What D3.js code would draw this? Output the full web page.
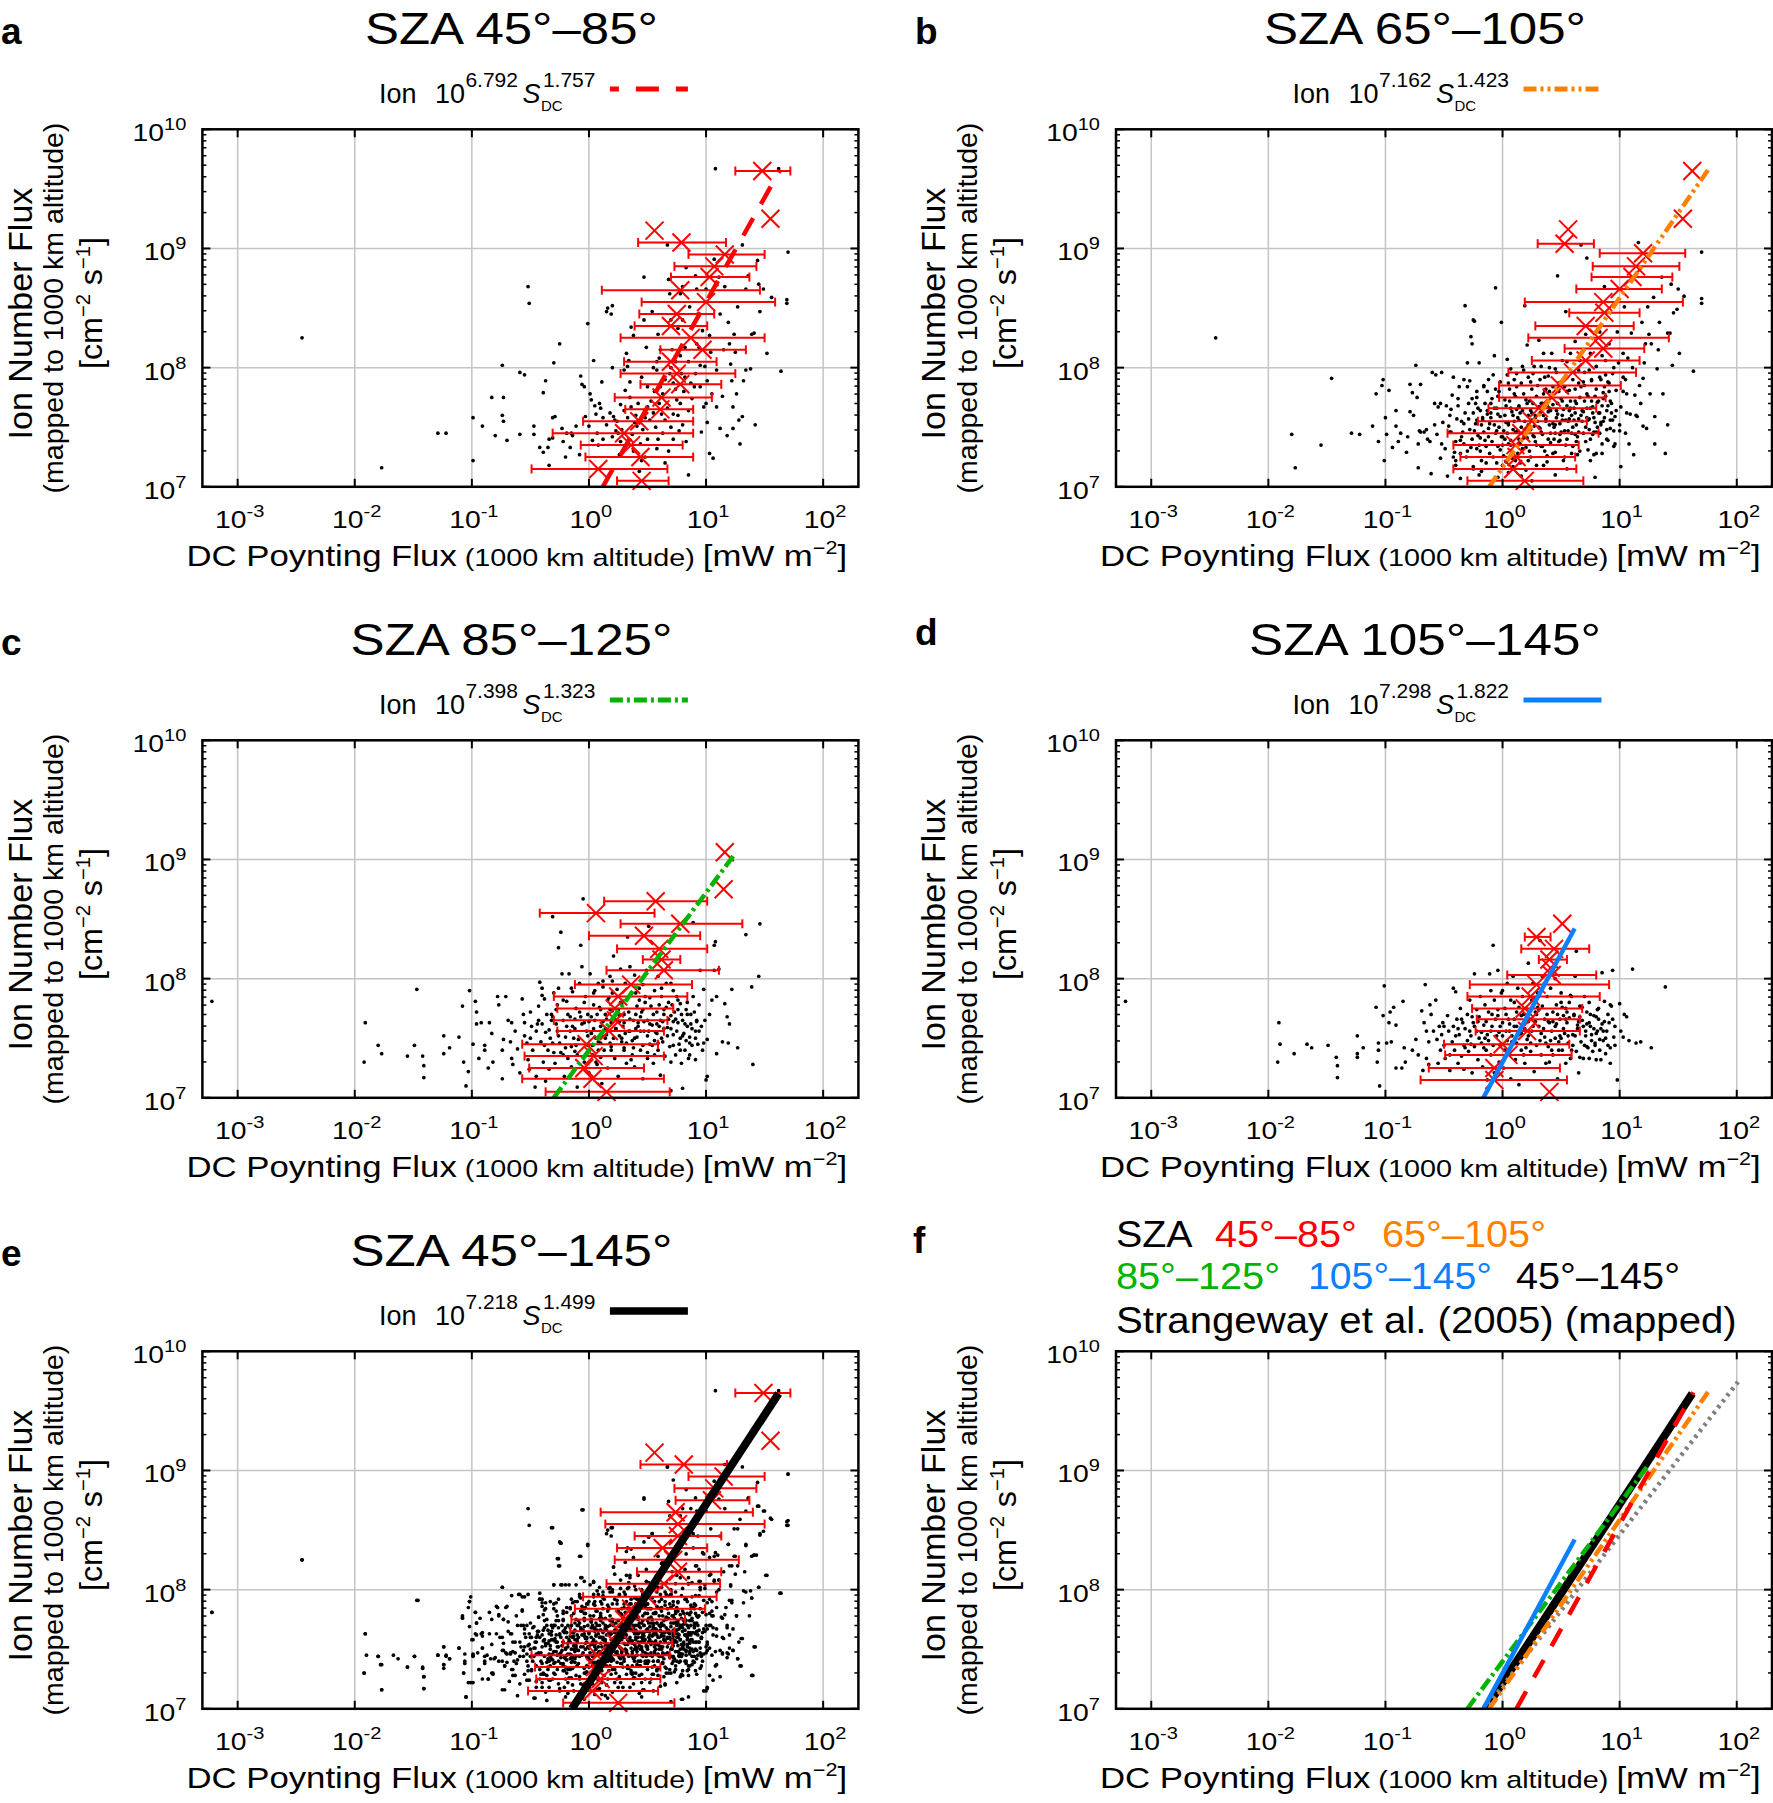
<!DOCTYPE html>
<html><head><meta charset="utf-8">
<script src="https://cdn.jsdelivr.net/npm/d3@7"></script>
<style>body{margin:0;background:#fff}svg{display:block}text{font-family:"Liberation Sans",Arial,Helvetica,sans-serif}</style>
</head><body>
<svg id="chart" width="1773" height="1803"></svg>
<script>
// ---------------- DATA (log10 S_DC [mW m^-2], log10 ion flux [cm^-2 s^-1]) ----------------
const pointsA = [[-2.45,8.25],[-1.77,7.16],[-1.29,7.45],[-1.22,7.45],[-0.99,7.58],[-0.99,7.22],[-0.91,7.51],[-0.80,7.43],[-0.74,8.02],[-0.73,7.75],[-0.83,7.75],[-0.74,7.60],[-0.73,7.55],[-0.70,7.39],[-0.59,7.96],[-0.55,7.94],[-0.52,8.68],[-0.51,8.54],[-0.59,7.44],[-0.47,7.51],[-0.47,7.44],[-0.42,7.33],[-0.39,7.29],[-0.35,7.33],[-0.34,7.18],[-0.37,7.89],[-0.39,7.79],[-0.30,8.04],[-0.25,8.20],[-0.31,7.58],[-0.29,7.59],[-0.34,7.40],[-0.31,7.41],[-0.23,7.49],[-0.22,7.38],[-0.20,7.25],[-0.19,7.45],[-0.15,7.45],[-0.14,7.43],[-0.16,7.33],[-0.11,7.51],[-0.08,7.27],[-0.07,7.93],[-0.06,7.86],[-0.04,7.84],[-0.03,7.59],[-0.01,8.37],[0.00,7.51],[0.01,7.78],[0.02,7.73],[0.03,7.39],[0.04,8.06],[0.06,7.61],[0.07,7.45],[0.08,7.35],[0.09,7.70],[0.10,7.66],[0.11,7.88],[0.12,7.40],[0.15,8.47],[0.16,8.50],[0.19,8.45],[0.20,8.52],[0.20,8.00],[0.21,7.59],[0.22,7.56],[0.23,7.47],[0.25,7.45],[0.26,7.27],[0.27,7.69],[0.30,7.98],[0.31,7.81],[0.32,8.12],[0.33,8.01],[0.34,8.06],[0.36,8.34],[0.38,8.27],[0.35,7.75],[0.36,7.67],[0.39,7.54],[0.41,7.51],[0.43,7.13],[0.45,7.22],[0.47,8.76],[0.47,8.40],[0.49,8.17],[0.50,7.84],[0.50,7.67],[0.52,7.56],[0.54,8.47],[0.56,7.80],[0.58,8.05],[0.58,7.98],[0.59,8.28],[0.61,8.15],[0.61,7.84],[0.62,7.61],[0.63,7.45],[0.65,7.20],[0.67,9.03],[0.68,8.74],[0.69,8.62],[0.69,7.95],[0.70,8.40],[0.71,8.15],[0.72,7.87],[0.72,7.61],[0.74,8.05],[0.75,7.73],[0.76,8.33],[0.77,7.47],[0.78,8.62],[0.79,7.95],[0.80,8.68],[0.80,8.40],[0.81,7.80],[0.82,8.17],[0.83,8.84],[0.83,7.38],[0.85,7.10],[0.86,8.51],[0.87,7.87],[0.89,8.35],[0.91,7.95],[0.91,8.77],[0.92,8.66],[0.93,8.45],[0.94,8.17],[0.95,7.84],[0.96,7.46],[0.97,8.31],[0.98,7.67],[0.99,8.01],[1.00,8.66],[1.01,7.54],[1.01,7.89],[1.03,8.27],[1.03,7.28],[1.04,8.13],[1.05,7.78],[1.06,7.24],[1.07,8.91],[1.08,9.67],[1.09,7.98],[1.09,7.67],[1.11,8.76],[1.12,8.45],[1.12,7.49],[1.14,7.76],[1.15,8.15],[1.16,8.68],[1.18,7.43],[1.19,8.38],[1.20,8.20],[1.21,8.03],[1.22,7.89],[1.23,7.49],[1.23,7.67],[1.24,8.28],[1.25,8.13],[1.26,7.78],[1.27,8.51],[1.28,7.56],[1.29,7.36],[1.31,7.59],[1.31,9.03],[1.32,7.89],[1.34,7.98],[1.34,8.66],[1.36,8.77],[1.38,7.99],[1.39,8.28],[1.41,8.29],[1.42,7.52],[1.44,8.90],[1.45,8.70],[1.46,8.47],[1.49,8.66],[1.52,8.12],[1.56,8.59],[1.62,9.67],[1.64,7.97],[1.69,8.54],[1.69,8.57],[1.70,8.97],
[0.15,7.52],[0.18,7.62],[0.24,7.55],[0.28,7.48],[0.30,7.64],[0.33,7.58],[0.37,7.44],[0.40,7.60],[0.42,7.70],[0.44,7.36],[0.46,7.48],[0.48,7.58],[0.50,7.40],[0.53,7.72],[0.55,7.62],[0.57,7.50],[0.59,7.40],[0.60,7.70],[0.63,7.78],[0.65,7.56],[0.67,7.66],[0.70,7.50],[0.72,7.40],[0.74,7.82],[0.76,7.60],[0.78,7.70],[0.80,7.52],[0.82,7.92],[0.85,7.64],[0.88,7.74],[0.90,7.84],[0.35,7.88],[0.45,7.92],[0.55,8.00],[0.65,7.90],[0.70,8.00],[0.78,8.10],[0.85,8.05],[0.92,8.20],[0.60,8.08],[0.38,7.30],[0.48,7.25],[0.58,7.32],[0.68,7.30],[0.27,7.38],[0.20,7.42],[0.12,7.58],[0.05,7.68],[0.95,8.02],[1.00,7.70]];

const pointsB = [[-2.45,8.25],[-1.80,7.44],[-1.77,7.16],[-1.55,7.35],[-1.46,7.91],[-1.29,7.45],[-1.22,7.44],[-1.11,7.51],[-1.08,7.78],[-1.06,7.38],[-1.03,7.85],[-1.02,7.90],[-1.01,7.22],[-1.00,7.58],[-0.99,7.44],[-0.97,7.81],[-0.94,7.33],[-0.91,7.64],[-0.91,7.51],[-0.89,7.38],[-0.87,7.45],[-0.82,7.29],[-0.81,7.42],[-0.79,7.63],[-0.79,7.86],[-0.77,7.79],[-0.76,7.60],[-0.74,8.02],[-0.73,7.75],[-0.72,7.36],[-0.72,7.16],[-0.71,7.47],[-0.70,7.86],[-0.70,7.46],[-0.67,7.46],[-0.65,7.48],[-0.64,7.40],[-0.62,7.38],[-0.61,7.11],[-0.60,7.96],[-0.58,7.70],[-0.57,7.94],[-0.56,7.44],[-0.55,7.67],[-0.53,7.70],[-0.53,7.24],[-0.52,7.96],[-0.51,7.54],[-0.49,7.32],[-0.47,7.09],[-0.46,7.51],[-0.45,7.46],[-0.44,7.65],[-0.43,7.77],[-0.42,7.92],[-0.41,7.29],[-0.40,7.22],[-0.39,7.57],[-0.38,7.68],[-0.37,7.84],[-0.36,7.07],[-0.36,7.39],[-0.34,7.46],[-0.33,7.53],[-0.33,7.90],[-0.32,8.52],[-0.31,7.25],[-0.30,8.04],[-0.29,7.70],[-0.28,7.89],[-0.27,8.26],[-0.26,8.20],[-0.25,7.17],[-0.25,8.40],[-0.24,8.39],[-0.23,7.53],[-0.22,7.75],[-0.22,7.32],[-0.21,7.43],[-0.20,8.04],[-0.19,7.64],[-0.18,7.13],[-0.17,7.56],[-0.16,7.85],[-0.15,7.39],[-0.14,7.20],[-0.13,7.61],[-0.13,7.80],[-0.12,7.49],[-0.11,7.28],[-0.10,7.70],[-0.08,7.94],[-0.07,7.66],[-0.07,8.10],[-0.06,8.67],[-0.05,7.47],[-0.04,7.34],[-0.04,7.08],[-0.03,7.80],[-0.02,7.59],[-0.01,8.38],[0.00,7.42],[0.02,7.73],[0.03,7.21],[0.04,8.07],[0.05,7.54],[0.05,7.87],[0.07,7.35],[0.07,7.99],[0.08,7.63],[0.09,7.17],[0.10,7.78],[0.11,7.46],[0.12,7.95],[0.13,7.28],[0.14,7.67],[0.14,7.56],[0.16,7.87],[0.16,7.09],[0.17,8.01],[0.18,7.41],[0.19,8.52],[0.20,7.73],[0.21,8.19],[0.22,7.52],[0.22,7.92],[0.24,7.25],[0.24,7.64],[0.25,7.82],[0.26,7.43],[0.27,8.01],[0.28,7.60],[0.29,7.18],[0.30,7.85],[0.31,8.23],[0.32,7.49],[0.33,7.70],[0.33,8.01],[0.34,7.34],[0.35,8.12],[0.36,7.81],[0.37,7.57],[0.38,7.21],[0.39,7.93],[0.40,7.66],[0.41,7.45],[0.42,8.12],[0.43,7.84],[0.43,7.53],[0.45,7.29],[0.45,7.99],[0.46,7.64],[0.47,8.77],[0.48,7.87],[0.49,7.39],[0.50,7.74],[0.51,8.06],[0.51,7.56],[0.53,7.25],[0.54,7.93],[0.54,8.47],[0.55,7.68],[0.56,7.47],[0.57,7.81],[0.58,8.12],[0.59,7.60],[0.60,7.34],[0.61,7.96],[0.62,8.22],[0.62,7.72],[0.63,7.52],[0.64,7.27],[0.65,7.87],[0.66,8.06],[0.67,9.03],[0.68,7.64],[0.69,7.45],[0.70,7.96],[0.71,8.28],[0.72,7.78],[0.72,8.92],[0.73,7.31],[0.74,7.57],[0.75,8.12],[0.76,7.89],[0.77,7.67],[0.78,7.27],[0.79,7.08],[0.80,8.01],[0.80,7.46],[0.82,7.72],[0.83,8.30],[0.83,7.92],[0.84,7.54],[0.85,7.28],[0.86,7.79],[0.87,8.68],[0.88,8.06],[0.89,7.64],[0.90,7.39],[0.91,7.87],[0.91,8.20],[0.92,7.49],[0.93,7.70],[0.94,7.95],[0.95,7.34],[0.96,7.59],[0.97,7.81],[0.98,8.30],[0.99,8.04],[1.00,7.47],[1.01,7.17],[1.01,7.67],[1.03,7.92],[1.03,8.12],[1.04,8.51],[1.05,7.45],[1.06,7.78],[1.07,8.08],[1.08,7.36],[1.09,7.61],[1.10,8.29],[1.11,8.00],[1.12,7.27],[1.13,7.77],[1.14,7.60],[1.15,7.59],[1.16,9.05],[1.17,7.85],[1.18,7.70],[1.19,8.38],[1.20,7.91],[1.20,7.51],[1.21,8.04],[1.22,8.20],[1.23,7.49],[1.24,8.51],[1.25,8.28],[1.26,7.78],[1.27,8.20],[1.29,8.59],[1.30,7.36],[1.30,7.59],[1.32,7.99],[1.33,8.15],[1.34,8.38],[1.36,8.76],[1.37,7.78],[1.39,7.28],[1.41,8.29],[1.41,7.52],[1.43,8.29],[1.44,8.70],[1.45,8.02],[1.46,8.46],[1.49,8.49],[1.50,8.66],[1.51,8.12],[1.55,8.60],[1.63,7.97],[1.70,8.54],[1.70,8.58],[1.70,8.97],
[-0.45,7.60],[-0.40,7.38],[-0.35,7.55],[-0.30,7.30],[-0.28,7.48],[-0.25,7.62],[-0.20,7.35],[-0.18,7.52],[-0.15,7.70],[-0.12,7.42],[-0.10,7.58],[-0.08,7.25],[-0.05,7.66],[-0.03,7.50],[0.00,7.35],[0.02,7.60],[0.04,7.45],[0.06,7.72],[0.08,7.30],[0.10,7.55],[0.12,7.65],[0.14,7.40],[0.16,7.50],[0.18,7.78],[0.20,7.33],[0.22,7.60],[0.24,7.48],[0.26,7.70],[0.28,7.38],[0.30,7.55],[0.32,7.62],[0.34,7.44],[0.36,7.30],[0.38,7.68],[0.40,7.52],[0.42,7.75],[0.44,7.40],[0.46,7.58],[0.48,7.80],[0.50,7.46],[0.52,7.65],[0.54,7.35],[0.56,7.55],[0.58,7.72],[0.60,7.50],[0.62,7.62],[0.64,7.42],[0.66,7.75],[0.68,7.55],[0.70,7.85],[0.72,7.66],[0.74,7.48],[0.76,7.72],[0.78,7.58],[0.80,7.82],[0.82,7.62],[0.84,7.90],[0.86,7.55],[0.88,7.76],[0.90,7.68],[-0.22,7.80],[-0.06,7.82],[0.10,7.90],[0.26,7.95],[0.40,8.00],[0.55,8.05],[0.65,7.98],[0.85,8.10],[0.95,8.00],[1.05,7.90],[0.15,7.20],[0.35,7.18],[0.55,7.15],[0.75,7.22],[-0.25,7.15],[0.05,7.12],[0.45,7.10],[0.25,7.05],[-0.35,7.42],[-0.42,7.25],
[-0.58,7.52],[-0.52,7.36],[-0.48,7.68],[-0.44,7.46],[-0.38,7.74],[-0.36,7.28],[-0.32,7.62],[-0.26,7.40],[-0.23,7.70],[-0.19,7.30],[-0.16,7.46],[-0.13,7.64],[-0.09,7.38],[-0.07,7.52],[-0.04,7.76],[-0.01,7.42],[0.01,7.26],[0.03,7.54],[0.05,7.36],[0.07,7.66],[0.09,7.48],[0.11,7.22],[0.13,7.58],[0.15,7.36],[0.17,7.64],[0.19,7.44],[0.21,7.70],[0.23,7.30],[0.25,7.56],[0.27,7.42],[0.29,7.76],[0.31,7.50],[0.33,7.34],[0.35,7.60],[0.37,7.82],[0.39,7.40],[0.41,7.64],[0.43,7.28],[0.45,7.52],[0.47,7.70],[0.49,7.44],[0.51,7.60],[0.53,7.84],[0.55,7.40],[0.57,7.64],[0.59,7.28],[0.61,7.56],[0.63,7.70],[0.65,7.46],[0.67,7.60],[0.69,7.88],[0.71,7.38],[0.73,7.56],[0.75,7.66],[0.77,7.44],[0.79,7.76],[0.81,7.50],[0.83,7.62],[0.85,7.36],[0.87,7.84],[0.89,7.48],[0.92,7.72],[0.94,7.56],[0.97,7.64],[1.00,7.52],[1.03,7.80],[1.06,7.62],[-0.30,7.84],[-0.12,7.90],[0.04,7.94],[0.18,7.98],[0.32,7.90],[0.46,7.96],[0.60,7.90],[0.74,7.98],[0.88,7.94],[-0.40,7.18],[-0.20,7.10],[0.00,7.18],[0.20,7.14],
[-0.29,7.57],[-0.27,7.33],[-0.24,7.47],[-0.21,7.66],[-0.19,7.41],[-0.17,7.58],[-0.14,7.34],[-0.11,7.53],[-0.09,7.74],[-0.06,7.45],[-0.04,7.61],[-0.02,7.31],[0.01,7.47],[0.03,7.68],[0.05,7.52],[0.07,7.39],[0.09,7.60],[0.11,7.76],[0.13,7.47],[0.15,7.62],[0.17,7.32],[0.19,7.55],[0.21,7.41],[0.23,7.72],[0.25,7.62],[0.27,7.51],[0.29,7.35],[0.31,7.67],[0.33,7.46],[0.35,7.78],[0.37,7.55],[0.39,7.63],[0.41,7.37],[0.43,7.69],[0.45,7.45],[0.47,7.61],[0.49,7.53],[0.51,7.72],[0.53,7.47],[0.55,7.80],[0.57,7.57],[0.59,7.45],[0.61,7.66],[0.63,7.38],[0.65,7.57],[0.67,7.84],[0.69,7.63],[0.71,7.50],[0.73,7.76],[0.75,7.40],[0.77,7.62],[0.79,7.54],[0.81,7.71],[0.83,7.45],[0.85,7.68],[0.87,7.58],[0.89,7.40],[0.91,7.80],[0.93,7.62],[0.95,7.47],
[-0.26,7.74],[-0.16,7.84],[-0.02,7.88],[0.12,7.84],[0.24,7.88],[0.36,7.92],[0.50,7.88],[0.62,7.82],[0.76,7.90],[0.90,7.88],[-0.33,7.36],[-0.18,7.22],[-0.05,7.20],[0.08,7.24],[0.22,7.22],[0.38,7.26],[0.52,7.22],[0.66,7.30],[0.80,7.28],[0.96,7.36],
[0.02,7.40],[0.14,7.68],[0.28,7.58],[0.44,7.50],[0.58,7.66],[0.72,7.58],[0.86,7.74],[-0.10,7.62],[0.20,7.48],[0.34,7.70],[0.48,7.38],[0.62,7.44],[0.78,7.46],[0.92,7.56],[0.06,7.82],[0.40,7.80],[-0.22,7.56],[0.54,7.56],[0.70,7.72],[0.84,7.52]];

const pointsC = [[-3.22,7.81],[-1.92,7.30],[-1.91,7.63],[-1.80,7.44],[-1.77,7.37],[-1.55,7.35],[-1.49,7.44],[-1.47,7.91],[-1.42,7.35],[-1.41,7.27],[-1.41,7.17],[-1.24,7.52],[-1.24,7.37],[-1.19,7.42],[-1.11,7.51],[-1.08,7.77],[-1.07,7.30],[-1.05,7.10],[-1.03,7.22],[-1.02,7.90],[-0.99,7.45],[-0.97,7.81],[-0.96,7.62],[-0.96,7.72],[-0.94,7.33],[-0.92,7.63],[-0.89,7.40],[-0.89,7.44],[-0.86,7.25],[-0.85,7.63],[-0.83,7.54],[-0.82,7.30],[-0.78,7.85],[-0.77,7.78],[-0.74,7.40],[-0.74,7.16],[-0.73,7.49],[-0.71,7.85],[-0.69,7.65],[-0.67,7.47],[-0.66,7.63],[-0.66,7.33],[-0.65,7.28],[-0.63,7.56],[-0.61,7.41],[-0.59,7.21],[-0.57,7.83],[-0.56,7.70],[-0.55,7.63],[-0.55,7.52],[-0.53,7.46],[-0.52,7.32],[-0.51,7.24],[-0.50,7.72],[-0.49,7.60],[-0.48,7.40],[-0.46,7.09],[-0.45,7.18],[-0.45,7.56],[-0.43,7.65],[-0.43,7.77],[-0.42,7.97],[-0.41,7.47],[-0.40,7.92],[-0.39,7.30],[-0.38,7.83],[-0.37,7.14],[-0.36,7.70],[-0.35,7.40],[-0.34,7.57],[-0.34,7.24],[-0.32,7.65],[-0.31,8.52],[-0.31,7.46],[-0.30,7.88],[-0.29,7.29],[-0.28,7.74],[-0.27,7.56],[-0.26,8.26],[-0.26,7.92],[-0.24,8.39],[-0.24,7.38],[-0.23,8.04],[-0.22,7.65],[-0.21,7.18],[-0.20,7.51],[-0.19,7.81],[-0.18,7.33],[-0.17,8.04],[-0.16,7.68],[-0.15,7.43],[-0.15,7.26],[-0.14,7.89],[-0.12,7.58],[-0.12,7.39],[-0.11,7.75],[-0.10,7.09],[-0.09,7.49],[-0.08,7.96],[-0.07,8.28],[-0.06,8.10],[-0.05,8.67],[-0.04,7.63],[-0.04,7.30],[-0.03,7.85],[-0.01,7.44],[-0.01,7.70],[0.00,7.21],[0.01,8.04],[0.02,7.54],[0.03,7.36],[0.04,7.88],[0.05,7.65],[0.07,7.28],[0.08,7.96],[0.08,7.47],[0.09,7.76],[0.10,7.60],[0.11,7.12],[0.12,7.93],[0.13,7.40],[0.14,7.70],[0.15,7.53],[0.16,7.25],[0.17,7.84],[0.18,8.02],[0.19,7.63],[0.19,7.43],[0.20,7.73],[0.21,8.19],[0.22,7.33],[0.23,7.58],[0.24,7.91],[0.25,7.18],[0.26,7.69],[0.27,8.08],[0.28,7.47],[0.28,7.79],[0.30,7.40],[0.30,7.63],[0.31,7.96],[0.32,7.29],[0.33,8.35],[0.34,7.72],[0.35,7.56],[0.36,7.88],[0.37,7.36],[0.38,7.65],[0.39,8.03],[0.39,7.26],[0.41,7.77],[0.41,7.51],[0.42,7.63],[0.43,7.92],[0.44,7.40],[0.45,7.72],[0.46,7.16],[0.47,7.56],[0.48,7.85],[0.49,8.07],[0.50,7.33],[0.50,7.65],[0.51,8.44],[0.52,7.45],[0.53,7.77],[0.54,7.61],[0.55,7.29],[0.56,7.90],[0.57,7.55],[0.58,7.72],[0.59,7.40],[0.59,8.02],[0.61,7.65],[0.61,7.19],[0.62,7.85],[0.63,7.47],[0.64,7.70],[0.65,7.35],[0.66,7.96],[0.67,7.59],[0.68,7.80],[0.69,7.43],[0.70,7.69],[0.70,7.06],[0.72,7.90],[0.72,7.53],[0.73,7.72],[0.74,7.36],[0.75,7.85],[0.76,7.63],[0.77,7.45],[0.78,7.79],[0.79,7.29],[0.80,7.08],[0.80,7.65],[0.81,7.54],[0.82,7.40],[0.83,7.74],[0.84,7.60],[0.85,7.33],[0.86,7.51],[0.87,7.70],[0.88,7.44],[0.89,7.85],[0.89,8.47],[0.91,7.56],[0.91,7.32],[0.92,7.65],[0.93,7.45],[0.94,7.78],[0.95,8.07],[0.96,7.60],[0.97,7.40],[0.98,7.91],[0.99,7.65],[1.00,7.15],[1.01,7.49],[1.01,7.18],[1.03,7.70],[1.05,7.82],[1.07,8.28],[1.08,8.31],[1.07,8.07],[1.09,7.85],[1.09,7.37],[1.11,8.08],[1.14,7.47],[1.16,7.79],[1.18,7.68],[1.19,7.46],[1.20,7.62],[1.22,7.91],[1.27,7.42],[1.34,8.37],[1.39,7.93],[1.40,7.28],[1.45,8.02],[1.46,8.46],
[-0.40,7.62],[-0.33,7.50],[-0.27,7.78],[-0.20,7.42],[-0.14,7.60],[-0.08,7.72],[-0.02,7.56],[0.04,7.78],[0.08,7.40],[0.12,7.64],[0.16,7.82],[0.21,7.50],[0.25,7.74],[0.29,7.60],[0.33,7.84],[0.37,7.48],[0.40,7.70],[0.44,7.56],[0.48,7.80],[0.52,7.62],[0.56,7.48],[0.60,7.78],[0.64,7.58],[0.68,7.66],[0.72,7.44],[0.76,7.74],[0.80,7.52],[0.84,7.80],[0.88,7.58],[0.10,7.34],[0.30,7.42],[0.50,7.38],[0.70,7.30],[-0.10,7.36],[-0.30,7.38],[0.20,7.98],[0.46,7.95],[0.62,7.92],[0.35,8.10],[0.05,7.90],
[-0.50,7.50],[-0.44,7.62],[-0.38,7.44],[-0.32,7.70],[-0.26,7.52],[-0.22,7.36],[-0.16,7.56],[-0.11,7.44],[-0.06,7.62],[-0.02,7.36],[0.02,7.68],[0.06,7.50],[0.10,7.74],[0.14,7.58],[0.18,7.46],[0.22,7.66],[0.26,7.52],[0.30,7.70],[0.34,7.56],[0.38,7.42],[0.42,7.60],[0.46,7.74],[0.50,7.52],[0.54,7.44],[0.58,7.62],[0.62,7.50],[0.66,7.76],[0.70,7.58],[0.74,7.66],[0.78,7.50],[0.82,7.62],[0.86,7.46],[0.90,7.72],[0.94,7.56],[0.98,7.46],[-0.40,7.86],[-0.15,7.92],[0.12,7.98],[0.40,7.88],[0.70,7.96],
[-0.37,7.55],[-0.31,7.68],[-0.25,7.46],[-0.19,7.60],[-0.13,7.50],[-0.07,7.68],[-0.01,7.52],[0.03,7.44],[0.07,7.70],[0.11,7.52],[0.15,7.66],[0.19,7.40],[0.23,7.58],[0.27,7.80],[0.31,7.54],[0.35,7.66],[0.39,7.50],[0.43,7.82],[0.47,7.64],[0.51,7.56],[0.55,7.70],[0.59,7.46],[0.63,7.64],[0.67,7.52],[0.71,7.78],[0.75,7.56],[0.79,7.70],[0.83,7.48],[0.87,7.62],[0.91,7.50],
[-0.28,7.62],[-0.22,7.82],[-0.12,7.66],[-0.04,7.80],[0.04,7.58],[0.10,7.46],[0.18,7.74],[0.26,7.64],[0.32,7.46],[0.40,7.58],[0.46,7.44],[0.52,7.84],[0.58,7.54],[0.64,7.74],[0.72,7.64],[0.78,7.40],[0.84,7.70],[0.92,7.64],[0.00,7.64],[0.14,7.50],[0.28,7.50],[0.44,7.68],[0.60,7.60],[0.76,7.82],[-0.18,7.70],[0.06,7.30],[0.36,7.32],[0.56,7.36],[0.86,7.36],[0.20,7.88]];

const pointsD = [[-3.22,7.81],[-1.92,7.30],[-1.91,7.63],[-1.90,7.45],[-1.78,7.37],[-1.67,7.45],[-1.63,7.42],[-1.49,7.44],[-1.42,7.34],[-1.41,7.27],[-1.41,7.17],[-1.24,7.52],[-1.24,7.37],[-1.24,7.34],[-1.19,7.42],[-1.08,7.76],[-1.07,7.30],[-1.06,7.40],[-1.06,7.46],[-1.05,7.10],[-1.02,7.69],[-1.01,7.94],[-0.99,7.46],[-0.97,7.63],[-0.96,7.72],[-0.95,7.47],[-0.93,7.76],[-0.91,7.25],[-0.91,7.61],[-0.86,7.25],[-0.85,7.81],[-0.84,7.42],[-0.83,7.30],[-0.77,7.40],[-0.74,7.49],[-0.72,7.36],[-0.69,7.73],[-0.68,7.23],[-0.67,7.63],[-0.66,7.95],[-0.65,7.56],[-0.65,7.33],[-0.63,7.47],[-0.63,7.28],[-0.62,7.78],[-0.61,7.70],[-0.59,7.56],[-0.57,7.82],[-0.56,7.49],[-0.55,7.29],[-0.54,7.60],[-0.53,7.40],[-0.52,7.53],[-0.51,7.63],[-0.50,7.44],[-0.49,7.33],[-0.47,7.69],[-0.46,7.56],[-0.45,7.23],[-0.43,7.47],[-0.42,7.60],[-0.42,7.92],[-0.41,7.40],[-0.40,7.89],[-0.39,7.66],[-0.38,7.29],[-0.37,7.53],[-0.36,7.75],[-0.35,7.35],[-0.34,7.63],[-0.33,7.44],[-0.33,7.24],[-0.32,7.58],[-0.30,7.70],[-0.29,7.39],[-0.28,7.82],[-0.27,7.52],[-0.26,7.21],[-0.25,7.63],[-0.24,8.04],[-0.24,7.43],[-0.22,7.74],[-0.22,7.56],[-0.21,7.32],[-0.20,7.68],[-0.19,7.85],[-0.18,7.46],[-0.17,7.26],[-0.16,7.61],[-0.15,7.78],[-0.14,7.40],[-0.13,7.53],[-0.13,7.15],[-0.12,7.72],[-0.11,8.04],[-0.10,7.36],[-0.09,7.60],[-0.08,8.28],[-0.07,7.82],[-0.07,7.21],[-0.05,7.52],[-0.04,8.07],[-0.04,7.69],[-0.03,7.30],[-0.02,7.44],[-0.01,7.88],[0.00,7.63],[0.01,7.25],[0.02,7.75],[0.03,7.56],[0.04,7.96],[0.05,7.39],[0.05,7.66],[0.07,7.16],[0.07,7.82],[0.08,7.47],[0.09,8.02],[0.10,7.60],[0.11,7.32],[0.12,7.72],[0.13,7.92],[0.14,7.11],[0.14,7.53],[0.16,7.69],[0.16,7.40],[0.17,7.85],[0.18,7.63],[0.19,7.29],[0.20,7.75],[0.21,7.49],[0.22,8.13],[0.23,7.66],[0.24,7.39],[0.25,7.82],[0.25,7.56],[0.26,7.96],[0.27,7.22],[0.28,7.72],[0.29,7.44],[0.30,7.88],[0.31,7.60],[0.32,8.32],[0.33,7.36],[0.34,7.77],[0.34,8.02],[0.36,7.51],[0.36,7.66],[0.37,7.29],[0.38,7.85],[0.39,7.43],[0.40,7.63],[0.41,7.92],[0.42,7.56],[0.43,7.72],[0.43,7.36],[0.45,8.00],[0.45,7.60],[0.46,7.78],[0.47,7.16],[0.48,7.47],[0.49,7.66],[0.50,7.88],[0.51,7.40],[0.52,7.69],[0.53,7.54],[0.54,7.29],[0.54,7.75],[0.55,7.63],[0.56,7.46],[0.57,7.67],[0.58,7.33],[0.59,7.85],[0.60,7.53],[0.61,7.69],[0.62,8.02],[0.63,7.39],[0.63,8.23],[0.64,7.61],[0.65,7.21],[0.66,7.77],[0.67,7.47],[0.68,7.65],[0.69,7.33],[0.70,7.85],[0.71,7.56],[0.72,7.72],[0.72,7.43],[0.74,7.63],[0.74,7.33],[0.75,7.60],[0.76,7.53],[0.77,7.39],[0.78,7.69],[0.79,7.44],[0.80,7.32],[0.81,7.56],[0.82,7.75],[0.83,7.40],[0.83,7.49],[0.84,7.32],[0.85,8.05],[0.86,7.56],[0.87,7.81],[0.88,7.37],[0.90,7.44],[0.91,7.63],[0.92,7.78],[0.92,7.29],[0.93,7.77],[0.94,8.07],[0.95,7.51],[0.96,7.44],[0.98,7.15],[1.00,7.79],[1.01,7.56],[1.03,7.51],[1.04,7.70],[1.06,7.68],[1.08,7.48],[1.11,8.08],[1.14,7.46],[1.18,7.47],[1.27,7.42],[1.39,7.93],
[-0.30,7.48],[-0.24,7.60],[-0.18,7.55],[-0.12,7.48],[-0.06,7.66],[0.00,7.52],[0.06,7.62],[0.12,7.46],[0.18,7.70],[0.22,7.52],[0.28,7.64],[0.32,7.48],[0.38,7.70],[0.42,7.40],[0.46,7.62],[0.50,7.50],[0.55,7.72],[0.60,7.44],[0.64,7.58],[0.68,7.76],[0.72,7.62],[0.76,7.48],[0.80,7.68],[0.84,7.58],[0.88,7.50],[0.10,7.80],[0.30,7.76],[0.50,7.80],[-0.10,7.90],[0.40,7.30],
[-0.40,7.52],[-0.35,7.66],[-0.27,7.45],[-0.21,7.64],[-0.15,7.50],[-0.09,7.70],[-0.03,7.55],[0.03,7.70],[0.08,7.52],[0.14,7.76],[0.19,7.58],[0.24,7.46],[0.29,7.70],[0.35,7.58],[0.41,7.48],[0.47,7.70],[0.52,7.58],[0.57,7.80],[0.62,7.52],[0.66,7.68],[0.70,7.44],[0.74,7.80],[0.78,7.58],[0.82,7.66],[0.86,7.48],[0.90,7.70],[0.96,7.60],[-0.50,7.60],[-0.45,7.36],[0.00,7.90],
[-0.38,7.58],[-0.32,7.42],[-0.26,7.68],[-0.20,7.50],[-0.14,7.64],[-0.08,7.44],[-0.02,7.60],[0.04,7.48],[0.10,7.66],[0.16,7.54],[0.20,7.42],[0.26,7.60],[0.31,7.74],[0.37,7.46],[0.43,7.64],[0.49,7.52],[0.54,7.66],[0.59,7.40],[0.65,7.64],[0.71,7.52],[0.75,7.70],[0.79,7.46],[0.85,7.62],[0.89,7.56],[0.94,7.66],
[-0.28,7.56],[-0.16,7.42],[-0.04,7.74],[0.06,7.56],[0.12,7.60],[0.22,7.64],[0.33,7.54],[0.39,7.64],[0.45,7.50],[0.51,7.76],[0.56,7.52],[0.61,7.70],[0.69,7.60],[0.73,7.42],[0.81,7.74],[0.87,7.64],[0.02,7.40],[0.18,7.36],[0.48,7.40],[0.66,7.34],[-0.10,7.56],[0.28,7.84],[0.58,7.86],[0.80,7.54],[0.92,7.42]];

// binned means: [log S mean, log N, log S low, log S high] (null = no error bar)
const binsA = [[1.48,9.65,1.25,1.72],[1.55,9.25,null,null],[0.56,9.15,null,null],[0.79,9.05,0.42,1.17],[1.16,8.95,0.85,1.50],[1.07,8.85,0.73,1.43],[1.03,8.76,0.70,1.37],[0.78,8.65,0.11,1.46],[1.00,8.55,0.45,1.59],[0.75,8.45,0.43,1.07],[0.70,8.35,0.39,1.01],[0.87,8.25,0.27,1.50],[0.97,8.15,0.61,1.34],[0.70,8.05,0.30,1.09],[0.75,7.95,0.27,1.25],[0.78,7.86,0.44,1.13],[0.62,7.75,0.22,1.05],[0.61,7.65,0.31,0.89],[0.43,7.55,-0.05,0.89],[0.30,7.45,-0.31,0.89],[0.36,7.35,-0.07,0.80],[0.44,7.25,-0.03,0.89],[0.08,7.15,-0.49,0.67],[0.45,7.05,0.24,0.68]];
const binsB = [[1.62,9.65,null,null],[1.54,9.25,null,null],[0.56,9.16,null,null],[0.53,9.04,0.30,0.78],[1.20,8.96,0.83,1.56],[1.14,8.85,0.77,1.51],[1.11,8.76,0.76,1.45],[1.00,8.66,0.63,1.36],[0.86,8.55,0.19,1.54],[0.87,8.46,0.57,1.17],[0.71,8.35,0.28,1.12],[0.82,8.25,0.22,1.42],[0.86,8.16,0.53,1.21],[0.71,8.06,0.25,1.17],[0.60,7.96,0.05,1.14],[0.49,7.85,-0.03,1.01],[0.42,7.75,-0.03,0.88],[0.31,7.66,-0.12,0.80],[0.25,7.55,-0.21,0.72],[0.16,7.45,-0.47,0.82],[0.11,7.35,-0.42,0.65],[0.12,7.25,-0.36,0.62],[0.09,7.15,-0.42,0.63],[0.19,7.05,-0.30,0.69]];
const binsC = [[1.16,9.06,null,null],[1.15,8.75,null,null],[0.57,8.65,0.13,1.01],[0.06,8.55,-0.42,0.56],[0.78,8.46,0.27,1.31],[0.47,8.36,0.00,0.95],[0.60,8.25,0.24,1.01],[0.62,8.16,0.46,0.78],[0.64,8.07,0.15,1.11],[0.36,7.95,-0.12,0.88],[0.25,7.85,-0.30,0.84],[0.22,7.75,-0.27,0.72],[0.23,7.65,-0.30,0.67],[0.17,7.56,-0.27,0.64],[-0.02,7.45,-0.57,0.59],[0.04,7.35,-0.55,0.64],[-0.04,7.25,-0.51,0.47],[0.03,7.16,-0.57,0.64],[0.15,7.05,-0.37,0.69]];
const binsD = [[0.51,8.46,null,null],[0.29,8.35,0.19,0.41],[0.44,8.25,0.16,0.74],[0.40,8.16,0.31,0.55],[0.41,8.09,null,null],[0.42,8.03,0.04,0.80],[0.29,7.95,-0.28,0.91],[0.24,7.85,-0.30,0.83],[0.19,7.75,-0.26,0.68],[0.24,7.66,-0.22,0.66],[0.21,7.56,-0.23,0.66],[0.00,7.45,-0.50,0.57],[0.05,7.36,-0.49,0.59],[-0.07,7.25,-0.63,0.49],[-0.07,7.15,-0.70,0.55],[0.40,7.05,null,null]];
const binsE = [[1.49,9.65,1.25,1.72],[1.55,9.25,null,null],[0.56,9.15,null,null],[0.81,9.05,0.44,1.18],[1.15,8.95,0.85,1.50],[1.07,8.85,0.73,1.43],[1.05,8.75,0.74,1.37],[0.74,8.65,0.10,1.40],[0.76,8.55,0.14,1.50],[0.76,8.45,0.39,1.13],[0.63,8.35,0.24,1.01],[0.72,8.25,0.22,1.28],[0.76,8.15,0.41,1.13],[0.64,8.05,0.15,1.12],[0.50,7.94,-0.05,1.09],[0.36,7.84,-0.12,0.99],[0.30,7.75,-0.15,0.82],[0.26,7.65,-0.16,0.73],[0.23,7.55,-0.22,0.71],[0.07,7.45,-0.49,0.69],[0.05,7.35,-0.46,0.61],[0.10,7.25,-0.45,0.61],[0.03,7.15,-0.52,0.59],[0.25,7.05,-0.22,0.73]];

// power-law fits N = 10^A * S^B, drawn between log S limits
const fitNames = ["45°–85°","65°–105°","85°–125°","105°–145°","45°–145°"];
const fitA = [6.792, 7.162, 7.398, 7.298, 7.218];
const fitB = [1.757, 1.423, 1.323, 1.822, 1.499];
const fitLo = [0.118, -0.114, -0.301, -0.164, -0.145];
const fitHi = [1.63, 1.757, 1.24, 0.616, 1.62];
const strangeway = {A: 7.19, B: 1.27, lo: -0.16, hi: 2.03};

const xTickExp = [-3,-2,-1,0,1,2];
const yTickExp = [7,8,9,10];

// ---------------- LAYOUT ----------------
const svg = d3.select("#chart");
svg.append("rect").attr("width",1773).attr("height",1803).attr("fill","#fff");
const PW = 656, PH = 357.5;
const colX = [202.4, 1116];
const rowY = [129.3, 740.3, 1351.3];
const x = d3.scaleLog().domain([5e-4, 200]).range([0, PW]);
const y = d3.scaleLog().domain([1e7, 1e10]).range([PH, 0]);
const RED="#ff0000", ORANGE="#ff8000", GREEN="#00b400", BLUE="#0a80ff", GRAY="#808080";
const styles = [
  {color:RED, width:4.5, dash:"20,16"},
  {color:ORANGE, width:4.5, dash:"13,4,3,4,3,4"},
  {color:GREEN, width:4.5, dash:"13,4,3,4"},
  {color:BLUE, width:4.5, dash:null},
  {color:"#000", width:8, dash:null}
];

function label(g, px, py, parts, o) {
  const t = g.append("text").attr("text-anchor", o.anchor || "start")
    .attr("font-size", o.size).attr("fill", o.fill || "#000");
  if (o.weight) t.attr("font-weight", o.weight);
  if (o.style) t.attr("font-style", o.style);
  parts.forEach(p => {
    if (typeof p === "string") p = {t: p};
    const ts = t.append("tspan").text(p.t);
    if (p.size) ts.attr("font-size", p.size);
    if (p.dy) ts.attr("dy", p.dy);
    if (p.style) ts.attr("font-style", p.style);
  });
  let sx = o.sx || 1;
  if (o.w) { const bw = t.node().getBBox().width; sx = o.w / bw; }
  t.attr("transform", `translate(${px},${py}) rotate(${o.rot || 0}) scale(${sx},1)`);
  return t;
}

const panels = [
  {id:"a", col:0, row:0, fit:0, title:"SZA 45°–85°", tw:293, pts:pointsA, bins:binsA, lab:[1,44]},
  {id:"b", col:1, row:0, fit:1, title:"SZA 65°–105°", tw:322, pts:pointsB, bins:binsB, lab:[915,44]},
  {id:"c", col:0, row:1, fit:2, title:"SZA 85°–125°", tw:322, pts:pointsC, bins:binsC, lab:[1,655]},
  {id:"d", col:1, row:1, fit:3, title:"SZA 105°–145°", tw:352, pts:pointsD, bins:binsD, lab:[915,645]},
  {id:"e", col:0, row:2, fit:4, title:"SZA 45°–145°", tw:322, pts:pointsA.concat(pointsB, pointsC, pointsD), bins:binsE, lab:[1,1266]},
  {id:"f", col:1, row:2, fit:null, title:null, lab:[913,1253]}
];

function fitLine(A, B, lo, hi) {
  return [[Math.pow(10, lo), Math.pow(10, A + B*lo)], [Math.pow(10, hi), Math.pow(10, A + B*hi)]];
}
const lineGen = d3.line().x(d => x(d[0])).y(d => y(d[1]));

panels.forEach((P, pi) => {
  const L = colX[P.col], T = rowY[P.row];
  const g = svg.append("g").attr("transform", `translate(${L},${T})`);
  const clipId = "clip" + P.id;
  g.append("clipPath").attr("id", clipId).append("rect").attr("width", PW).attr("height", PH);

  // grid
  xTickExp.forEach(k => g.append("line").attr("x1", x(Math.pow(10,k))).attr("x2", x(Math.pow(10,k)))
    .attr("y1", 0).attr("y2", PH).attr("stroke", "#c4c4c4").attr("stroke-width", 1.5));
  [8,9].forEach(k => g.append("line").attr("x1", 0).attr("x2", PW)
    .attr("y1", y(Math.pow(10,k))).attr("y2", y(Math.pow(10,k))).attr("stroke", "#c4c4c4").attr("stroke-width", 1.5));

  // scatter
  if (P.pts) {
    g.append("g").selectAll("circle").data(P.pts).join("circle")
      .attr("cx", d => x(Math.pow(10, d[0]))).attr("cy", d => y(Math.pow(10, d[1])))
      .attr("r", 1.85).attr("fill", "#000");
  }
  // binned means with error bars
  if (P.bins) {
    const bg = g.append("g").attr("stroke", RED).attr("stroke-width", 2).attr("fill", "none");
    P.bins.forEach(b => {
      const cx = x(Math.pow(10, b[0])), cy = y(Math.pow(10, b[1]));
      if (b[2] !== null) {
        const x1 = x(Math.pow(10, b[2])), x2 = x(Math.pow(10, b[3]));
        bg.append("line").attr("x1", x1).attr("x2", x2).attr("y1", cy).attr("y2", cy);
        bg.append("line").attr("x1", x1).attr("x2", x1).attr("y1", cy-4.5).attr("y2", cy+4.5);
        bg.append("line").attr("x1", x2).attr("x2", x2).attr("y1", cy-4.5).attr("y2", cy+4.5);
      }
      const s = 9;
      bg.append("line").attr("x1", cx-s).attr("x2", cx+s).attr("y1", cy-s).attr("y2", cy+s);
      bg.append("line").attr("x1", cx-s).attr("x2", cx+s).attr("y1", cy+s).attr("y2", cy-s);
    });
  }
  // fit lines
  const fg = g.append("g").attr("clip-path", `url(#${clipId})`);
  function drawFit(i) {
    const st = styles[i];
    fg.append("path").attr("d", lineGen(fitLine(fitA[i], fitB[i], fitLo[i], fitHi[i])))
      .attr("stroke", st.color).attr("stroke-width", st.width).attr("fill", "none")
      .attr("stroke-dasharray", st.dash);
  }
  if (P.fit !== null) {
    drawFit(P.fit);
  } else {
    drawFit(4);
    fg.append("path").attr("d", lineGen(fitLine(strangeway.A, strangeway.B, strangeway.lo, strangeway.hi)))
      .attr("stroke", GRAY).attr("stroke-width", 4.5).attr("fill", "none").attr("stroke-dasharray", "3,4.5");
    [1,0,2,3].forEach(drawFit);
  }

  // border
  g.append("rect").attr("width", PW).attr("height", PH).attr("fill", "none")
    .attr("stroke", "#000").attr("stroke-width", 2.5);
  // ticks
  const tk = g.append("g").attr("stroke", "#000").attr("stroke-width", 2);
  xTickExp.forEach(k => {
    const xx = x(Math.pow(10,k));
    tk.append("line").attr("x1", xx).attr("x2", xx).attr("y1", PH).attr("y2", PH-8);
    tk.append("line").attr("x1", xx).attr("x2", xx).attr("y1", 0).attr("y2", 8);
  });
  yTickExp.forEach(k => {
    const yy = y(Math.pow(10,k));
    tk.append("line").attr("x1", 0).attr("x2", 8).attr("y1", yy).attr("y2", yy);
    tk.append("line").attr("x1", PW).attr("x2", PW-8).attr("y1", yy).attr("y2", yy);
    if (k < 10) for (let m = 2; m <= 9; m++) {
      const ym = y(m*Math.pow(10,k));
      tk.append("line").attr("x1", 0).attr("x2", 4).attr("y1", ym).attr("y2", ym).attr("stroke-width", 1.5);
      tk.append("line").attr("x1", PW).attr("x2", PW-4).attr("y1", ym).attr("y2", ym).attr("stroke-width", 1.5);
    }
  });

  // tick labels
  xTickExp.forEach(k => label(svg, L + x(Math.pow(10,k)) + 2, T + PH + 41.5,
    ["10", {t: k < 0 ? "-" + (-k) : String(k), size: 17, dy: -11}], {size: 24, anchor: "middle", sx: 1.18}));
  yTickExp.forEach(k => label(svg, L - 16, T + y(Math.pow(10,k)) + 12,
    ["10", {t: String(k), size: 17, dy: -11}], {size: 24, anchor: "end", sx: 1.18}));

  // x axis label
  label(svg, L - 16, T + PH + 79.5,
    ["DC Poynting Flux", {t: " (1000 km altitude) ", size: 24}, {t: "[mW m", size: 29}, {t: "−2", size: 18, dy: -12}, {t: "]", size: 29, dy: 12}],
    {size: 29, w: 661});
  // y axis label (3 lines)
  const cy = T + PH/2;
  label(svg, L - 170.8, cy + 5.5, ["Ion Number Flux"], {size: 34, anchor: "middle", rot: -90, w: 252});
  label(svg, L - 139.4, cy, ["(mapped to 1000 km altitude)"], {size: 28, anchor: "middle", rot: -90, w: 371});
  label(svg, L - 100.1, cy - 5, ["[cm", {t: "−2", size: 20, dy: -12}, {t: " s", size: 32, dy: 12}, {t: "−1", size: 20, dy: -12}, {t: "]", size: 32, dy: 12}],
    {size: 32, anchor: "middle", rot: -90, w: 132});

  // panel letter
  label(svg, P.lab[0], P.lab[1], [P.id], {size: 37, weight: "bold"});

  if (P.title) {
    label(svg, L + 309, T - 85.3, [P.title], {size: 45, anchor: "middle", w: P.tw});
    // legend: Ion 10^A S_DC^B + sample
    const x0 = L + 176.5, yb = T - 26.8;
    const i = P.fit;
    label(svg, x0, yb, ["Ion"], {size: 27});
    label(svg, x0 + 56, yb, ["10"], {size: 27});
    label(svg, x0 + 86.5, yb - 15.5, [fitA[i].toFixed(3)], {size: 21});
    label(svg, x0 + 143.5, yb, ["S"], {size: 27, style: "italic"});
    label(svg, x0 + 162, yb + 8.5, ["DC"], {size: 15});
    label(svg, x0 + 164, yb - 15.5, [fitB[i].toFixed(3)], {size: 21});
    const st = styles[i];
    svg.append("line").attr("x1", x0 + 231).attr("x2", x0 + 309).attr("y1", yb - 13.5).attr("y2", yb - 13.5)
      .attr("stroke", st.color).attr("stroke-width", i === 4 ? 7.5 : 5)
      .attr("stroke-dasharray", i === 0 ? "23,17" : st.dash)
      .attr("stroke-dashoffset", i === 0 ? 14 : 0);
  } else {
    // legend for panel f
    const fs = 37;
    label(svg, L, T - 104.3, ["SZA"], {size: fs, w: 77});
    label(svg, L + 99, T - 104.3, [fitNames[0]], {size: fs, w: 142, fill: RED});
    label(svg, L + 266, T - 104.3, [fitNames[1]], {size: fs, w: 164, fill: ORANGE});
    label(svg, L, T - 62.3, [fitNames[2]], {size: fs, w: 164, fill: GREEN});
    label(svg, L + 192, T - 62.3, [fitNames[3]], {size: fs, w: 184, fill: BLUE});
    label(svg, L + 400, T - 62.3, [fitNames[4]], {size: fs, w: 164});
    label(svg, L, T - 18.3, ["Strangeway et al. (2005) (mapped)"], {size: fs, w: 621});
  }
});
</script>
</body></html>
